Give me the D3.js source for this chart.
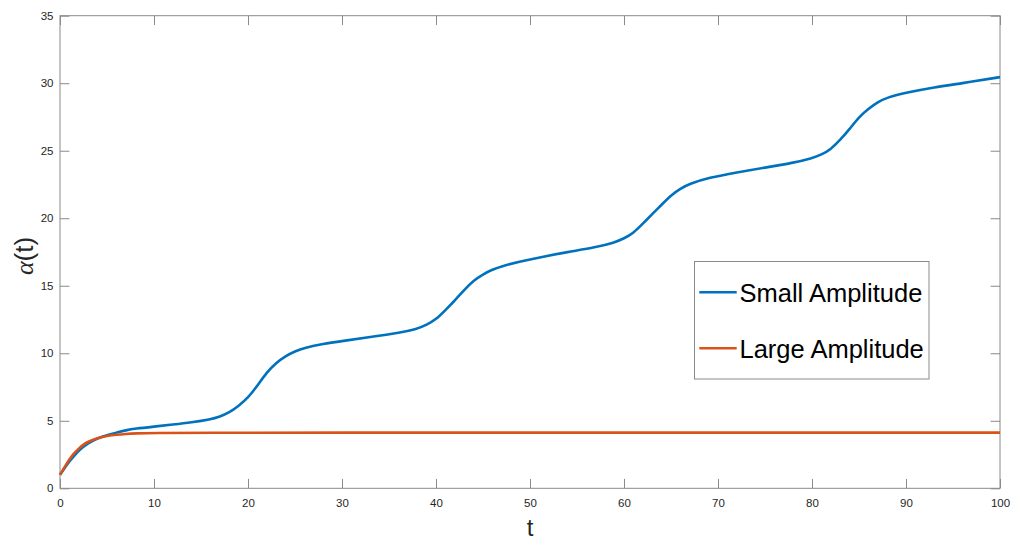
<!DOCTYPE html>
<html>
<head>
<meta charset="utf-8">
<script src="https://cdn.jsdelivr.net/npm/d3@7"></script>
<style>
  html, body { margin: 0; padding: 0; background: #fff; }
  svg { display: block; font-family: "Liberation Sans", Arial, sans-serif; }
</style>
</head>
<body>
<svg id="chart" width="1012" height="543"></svg>
<script>
// alpha(t) for the small-amplitude run
const smallT = [0, 0.5, 1, 1.5, 2, 3, 4, 5, 6, 7, 8, 10, 12, 14, 16, 17, 18, 19, 20, 21, 22, 23, 24, 25, 26, 28, 30, 33, 36, 38, 39, 40, 41, 42, 43, 44, 45, 46, 47, 49, 51, 54, 57, 59, 60, 61, 62, 63, 64, 65, 66, 67, 69, 72, 75, 78, 80, 81, 82, 83, 84, 85, 86, 87, 88, 90, 93, 96, 100];
const smallAlpha = [1.0, 1.5, 2.0, 2.4, 2.8, 3.35, 3.7, 3.95, 4.12, 4.3, 4.42, 4.57, 4.72, 4.88, 5.1, 5.3, 5.6, 6.1, 6.7, 7.6, 8.6, 9.3, 9.8, 10.15, 10.4, 10.7, 10.9, 11.2, 11.5, 11.8, 12.1, 12.5, 13.2, 13.9, 14.7, 15.4, 15.85, 16.2, 16.45, 16.8, 17.1, 17.5, 17.85, 18.2, 18.5, 18.9, 19.6, 20.3, 21.0, 21.7, 22.2, 22.55, 23.0, 23.4, 23.75, 24.1, 24.45, 24.7, 25.1, 25.8, 26.6, 27.5, 28.1, 28.6, 28.95, 29.3, 29.7, 30.0, 30.45];

// alpha(t) for the large-amplitude run
const largeT = [0, 0.5, 1, 1.5, 2, 2.5, 3, 4, 5, 6, 7, 8, 10, 15, 30, 50, 70, 100];
const largeAlpha = [1.0, 1.6, 2.15, 2.6, 2.95, 3.25, 3.45, 3.72, 3.88, 3.97, 4.03, 4.07, 4.1, 4.12, 4.12, 4.12, 4.12, 4.12];

const seriesNames = ["Small Amplitude", "Large Amplitude"];
const seriesColors = ["#0072BD", "#D95319"];

const xTicks = [0, 10, 20, 30, 40, 50, 60, 70, 80, 90, 100];
const yTicks = [0, 5, 10, 15, 20, 25, 30, 35];

const svg = d3.select("#chart");
const plotL = 60, plotR = 1000, plotT = 15.7, plotB = 488.3;

const x = d3.scaleLinear().domain([0, 100]).range([plotL, plotR]);
const y = d3.scaleLinear().domain([0, 35]).range([plotB, plotT]);

const axisColor = "#8a8a8a";
const textColor = "#262626";
const tickLen = 9.4;

function styleAxis(g, showText) {
  g.select(".domain").remove();
  g.selectAll(".tick line").attr("stroke", axisColor).attr("stroke-width", 1);
  g.selectAll(".tick text")
    .attr("fill", textColor)
    .style("font-size", "11.5px")
    .style("font-family", "'Liberation Sans', Arial, sans-serif")
    .style("display", showText ? null : "none");
}

// bottom & top
svg.append("g").attr("transform", `translate(0,${plotB})`)
  .call(d3.axisBottom(x).tickValues(xTicks).tickSize(-tickLen).tickPadding(10.2))
  .call(g => styleAxis(g, true));
svg.append("g").attr("transform", `translate(0,${plotT})`)
  .call(d3.axisTop(x).tickValues(xTicks).tickSize(-tickLen))
  .call(g => styleAxis(g, false));
// left & right
svg.append("g").attr("transform", `translate(${plotL},0)`)
  .call(d3.axisLeft(y).tickValues(yTicks).tickSize(-tickLen).tickPadding(6.5))
  .call(g => styleAxis(g, true));
svg.append("g").attr("transform", `translate(${plotR},0)`)
  .call(d3.axisRight(y).tickValues(yTicks).tickSize(-tickLen))
  .call(g => styleAxis(g, false));

// axes box
svg.append("rect")
  .attr("x", plotL).attr("y", plotT)
  .attr("width", plotR - plotL).attr("height", plotB - plotT)
  .attr("fill", "none").attr("stroke", axisColor).attr("stroke-width", 1);

// curves
const line = d3.line()
  .x(d => x(d[0]))
  .y(d => y(d[1]))
  .curve(d3.curveBasis);

const series = [
  smallT.map((t, i) => [t, smallAlpha[i]]),
  largeT.map((t, i) => [t, largeAlpha[i]])
];

series.forEach((pts, i) => {
  svg.append("path")
    .datum(pts)
    .attr("fill", "none")
    .attr("stroke", seriesColors[i])
    .attr("stroke-width", 2.6)
    .attr("stroke-linejoin", "round")
    .attr("d", line);
});

// axis labels
svg.append("text")
  .attr("x", (plotL + plotR) / 2).attr("y", 536)
  .attr("text-anchor", "middle")
  .attr("fill", textColor)
  .style("font-size", "24px")
  .text("t");

const yl = svg.append("text")
  .attr("transform", `translate(33,${(plotT + plotB) / 2 + 4}) rotate(-90)`)
  .attr("text-anchor", "middle")
  .attr("fill", textColor)
  .style("font-size", "26px");
yl.append("tspan").style("font-family", "'Liberation Serif', 'Times New Roman', serif").style("font-style", "italic").text("α");
yl.append("tspan").text("(t)");

// legend
const lg = svg.append("g");
lg.append("rect")
  .attr("x", 694.5).attr("y", 261.5).attr("width", 234.5).attr("height", 117.5)
  .attr("fill", "#fff").attr("stroke", axisColor).attr("stroke-width", 1);
const legendY = [292.3, 348.3];
seriesNames.forEach((name, i) => {
  lg.append("line")
    .attr("x1", 699.3).attr("x2", 736.7)
    .attr("y1", legendY[i]).attr("y2", legendY[i])
    .attr("stroke", seriesColors[i]).attr("stroke-width", 2.6);
  lg.append("text")
    .attr("x", 739.5).attr("y", legendY[i] + 9.2)
    .attr("fill", "#000")
    .style("font-size", "25.5px")
    .text(name);
});
</script>
</body>
</html>
